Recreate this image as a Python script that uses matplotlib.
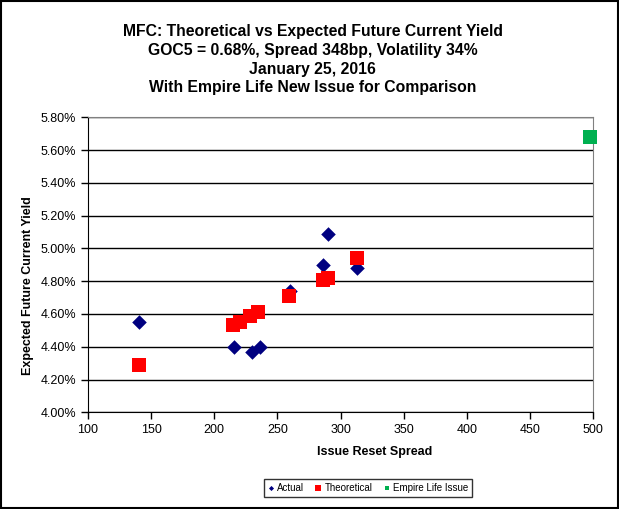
import matplotlib.pyplot as plt
from matplotlib.patches import Rectangle
from matplotlib.ticker import FuncFormatter

plt.rcParams['font.family'] = ['Liberation Sans', 'DejaVu Sans']

# Issue reset spread (bp) vs expected future current yield (%)
actual_spread = [140, 216, 230, 236, 260, 286, 290, 313]
actual_yield = [4.55, 4.40, 4.37, 4.40, 4.74, 4.90, 5.09, 4.88]

theo_spread = [140, 215, 220, 228, 235, 259, 286, 290, 313]
theo_yield = [4.29, 4.53, 4.55, 4.59, 4.61, 4.71, 4.81, 4.82, 4.94]

empire_spread = [498]
empire_yield = [5.68]

fig = plt.figure(figsize=(6.19, 5.09), dpi=100)
ax = fig.add_axes([0.1422, 0.19, 0.958 - 0.1422, 0.7695 - 0.19])

ax.scatter(actual_spread, actual_yield, marker='D', s=55, color='#000080',
           label='Actual', zorder=3, linewidths=0)
ax.scatter(theo_spread, theo_yield, marker='s', s=110, color='#ff0000',
           label='Theoretical', zorder=4, linewidths=0)
ax.scatter(empire_spread, empire_yield, marker='s', s=90, color='#00b050',
           label='Empire Life Issue', zorder=4, linewidths=0, clip_on=False)

ax.set_xlim(100, 500)
ax.set_ylim(4.0, 5.8)
ax.set_xticks(range(100, 501, 50))
ax.set_yticks([4.0 + 0.2 * i for i in range(10)])
ax.yaxis.set_major_formatter(FuncFormatter(lambda v, p: f'{v:.2f}%'))
ax.tick_params(direction='out', length=5, width=1, labelsize=9, colors='black')
ax.grid(axis='y', color='black', linewidth=1)
ax.set_axisbelow(True)

for side in ['top', 'right']:
    ax.spines[side].set_color('#808080')
ax.spines['left'].set_color('black')
ax.spines['bottom'].set_color('black')

fig.text(0.505, 0.952,
         'MFC: Theoretical vs Expected Future Current Yield\n'
         'GOC5 = 0.68%, Spread 348bp, Volatility 34%\n'
         'January 25, 2016\n'
         'With Empire Life New Issue for Comparison',
         ha='center', va='top', fontsize=11.3, fontweight='bold', linespacing=1.3)

fig.text(375 / 619, 1 - 452 / 509, 'Issue Reset Spread', ha='center', va='center',
         fontsize=9, fontweight='bold')
fig.text(28 / 619, 1 - 286 / 509, 'Expected Future Current Yield', ha='center',
         va='center', rotation=90, fontsize=9, fontweight='bold')

leg = fig.legend(loc='center', bbox_to_anchor=(368 / 619, 1 - 488 / 509), ncol=3,
                 fontsize=7, frameon=True, fancybox=False, edgecolor='black',
                 handlelength=0.6, handletextpad=0.3, columnspacing=1.2,
                 borderpad=0.4, markerscale=0.35)
leg.get_frame().set_linewidth(1)

fig.patches.append(Rectangle((0.002, 0.002), 0.996, 0.996, transform=fig.transFigure,
                             fill=False, edgecolor='black', linewidth=1.5))

plt.savefig('out.png', dpi=100)
